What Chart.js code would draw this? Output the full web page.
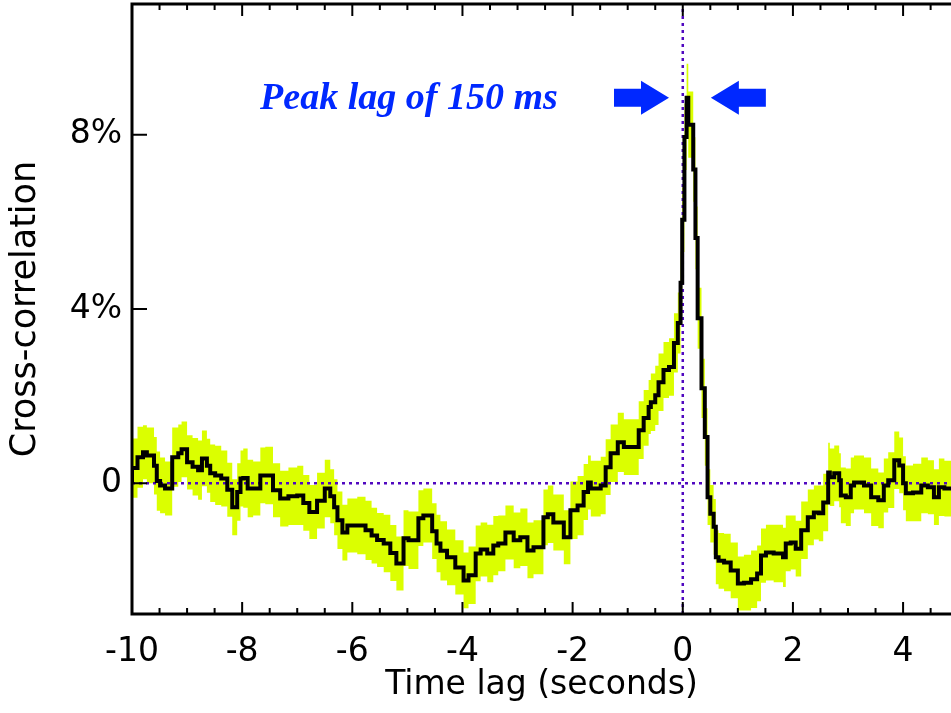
<!DOCTYPE html>
<html>
<head>
<meta charset="utf-8">
<script src="https://cdn.jsdelivr.net/npm/chart.js@4"></script>
<style>
  html, body { margin: 0; padding: 0; background: #fff; overflow: hidden; }
  canvas { display: block; }
</style>
</head>
<body>
<canvas id="chart" width="951" height="713"></canvas>
<script>
// time lag (s) where each step of the cross-correlation starts
const lags = [
  -10.0, -9.9, -9.8, -9.73, -9.6, -9.55, -9.49, -9.4, -9.27, -9.16,
  -9.1, -9.0, -8.9, -8.8, -8.73, -8.64, -8.58, -8.49, -8.38, -8.27,
  -8.18, -8.09, -8.03, -7.98, -7.9, -7.8, -7.67, -7.58, -7.44, -7.31,
  -7.16, -7.0, -6.89, -6.78, -6.64, -6.5, -6.4, -6.33, -6.27, -6.18,
  -6.09, -5.91, -5.76, -5.65, -5.55, -5.43, -5.31, -5.2, -5.07, -4.98,
  -4.8, -4.71, -4.55, -4.47, -4.4, -4.28, -4.13, -3.98, -3.89, -3.76,
  -3.67, -3.55, -3.44, -3.35, -3.22, -3.07, -2.95, -2.82, -2.71, -2.53,
  -2.45, -2.35, -2.16, -2.04, -1.91, -1.8, -1.72, -1.67, -1.49, -1.4,
  -1.31, -1.18, -1.07, -0.8, -0.71, -0.62, -0.58, -0.5, -0.44, -0.35,
  -0.25, -0.16, -0.09, -0.04, -0.01, 0.03, 0.07, 0.1, 0.19, 0.23,
  0.27, 0.34, 0.4, 0.45, 0.5, 0.56, 0.6, 0.65, 0.75, 0.87,
  1.0, 1.11, 1.24, 1.35, 1.42, 1.51, 1.65, 1.82, 1.87, 1.96,
  2.05, 2.15, 2.27, 2.38, 2.47, 2.55, 2.64, 2.67, 2.75, 2.84,
  2.87, 2.96, 3.05, 3.11, 3.29, 3.42, 3.55, 3.65, 3.73, 3.84,
  3.93, 4.0, 4.05, 4.18, 4.33, 4.45, 4.56, 4.65, 4.75, 4.87
];
// cross-correlation (%)
const corr = [
  0.0, 0.35, 0.6, 0.71, 0.64, 0.4, 0.05, -0.05, -0.12, 0.6,
  0.69, 0.78, 0.48, 0.38, 0.3, 0.57, 0.4, 0.23, 0.18, 0.11,
  -0.15, -0.55, -0.2, 0.11, 0.12, -0.12, -0.12, 0.18, 0.18, -0.16,
  -0.35, -0.3, -0.28, -0.45, -0.66, -0.4, -0.12, -0.3, -0.55, -0.85,
  -1.13, -0.97, -0.97, -1.08, -1.2, -1.3, -1.38, -1.6, -1.84, -1.26,
  -1.31, -0.8, -0.74, -1.1, -1.38, -1.55, -1.7, -1.93, -2.23, -2.11,
  -1.61, -1.52, -1.61, -1.43, -1.38, -1.13, -1.31, -1.24, -1.54, -1.47,
  -0.78, -0.71, -0.9, -1.24, -0.62, -0.51, -0.2, 0.02, -0.12, -0.05,
  0.37, 0.69, 0.94, 0.83, 1.22, 1.5, 1.75, 1.86, 2.02, 2.32,
  2.6, 2.67, 3.22, 3.68, 4.6, 6.05, 7.95, 8.85, 8.23, 7.2,
  5.63, 3.79, 2.18, 1.06, -0.32, -0.7, -1.0, -1.7, -1.78, -1.82,
  -2.0, -2.3, -2.28, -2.2, -2.07, -1.66, -1.59, -1.61, -1.7, -1.38,
  -1.36, -1.5, -1.08, -0.78, -0.67, -0.69, -0.44, 0.25, 0.14, 0.23,
  0.07, -0.28, -0.32, -0.05, 0.02, -0.05, -0.32, -0.39, -0.05, 0.07,
  0.53, 0.41, 0.0, -0.23, -0.21, -0.05, -0.09, -0.32, -0.09, -0.12
];
// half-width of the error band (%)
const err = [
  0.64, 0.68, 0.7, 0.62, 0.64, 0.66, 0.68, 0.64, 0.62, 0.68,
  0.66, 0.64, 0.62, 0.66, 0.68, 0.64, 0.62, 0.66, 0.68, 0.64,
  0.62, 0.64, 0.66, 0.64, 0.68, 0.66, 0.62, 0.64, 0.66, 0.62,
  0.64, 0.66, 0.68, 0.64, 0.62, 0.64, 0.66, 0.62, 0.64, 0.66,
  0.64, 0.62, 0.66, 0.68, 0.64, 0.62, 0.66, 0.64, 0.62, 0.64,
  0.66, 0.64, 0.62, 0.64, 0.66, 0.68, 0.64, 0.62, 0.64, 0.66,
  0.64, 0.62, 0.66, 0.68, 0.64, 0.62, 0.64, 0.66, 0.64, 0.62,
  0.64, 0.66, 0.64, 0.62, 0.66, 0.68, 0.64, 0.62, 0.64, 0.66,
  0.64, 0.66, 0.68, 0.64, 0.66, 0.64, 0.62, 0.66, 0.68, 0.66,
  0.64, 0.66, 0.68, 0.7, 0.72, 0.74, 0.76, 0.78, 0.76, 0.74,
  0.72, 0.7, 0.68, 0.66, 0.64, 0.66, 0.64, 0.62, 0.64, 0.66,
  0.64, 0.62, 0.64, 0.66, 0.64, 0.62, 0.64, 0.66, 0.68, 0.64,
  0.62, 0.64, 0.66, 0.64, 0.62, 0.64, 0.66, 0.68, 0.66, 0.64,
  0.62, 0.64, 0.66, 0.64, 0.62, 0.64, 0.66, 0.64, 0.62, 0.64,
  0.66, 0.64, 0.62, 0.64, 0.66, 0.64, 0.62, 0.64, 0.66, 0.64
];

const xMin = -10, xMax = 4.87;
const yMin = -3, yMax = 11;
const xTickValues = [-10, -8, -6, -4, -2, 0, 2, 4];
const xMinorStep = 0.5;
const yTickValues = [0, 4, 8];
const yTickLabels = ['0', '4%', '8%'];

const peakLag = 0.15, peakValue = 8.85;
const peakText = 'Peak lag of 150 ms';
const arrowTips = [-0.25, 0.51];

const BAND = '#DBFF00';
const DOTS = '#5008C0';
const BLUE = '#0028FF';
const axisFont = { family: 'DejaVu Sans', size: 33 };
const yTitleFont = { family: 'DejaVu Sans', size: 35 };

const toPts = vals => lags.map((x, i) => ({ x: x, y: vals[i] }));
const upper = corr.map((v, i) => v + err[i]);
const lower = corr.map((v, i) => v - err[i]);

const framePlugin = {
  id: 'frame',
  afterDatasetsDraw(chart) {
    const { ctx, chartArea: a, scales: { x, y } } = chart;
    ctx.save();
    ctx.strokeStyle = '#000';
    ctx.lineWidth = 3;
    ctx.beginPath();
    ctx.moveTo(a.right + 2, a.top);
    ctx.lineTo(a.left, a.top);
    ctx.lineTo(a.left, a.bottom);
    ctx.lineTo(a.right + 2, a.bottom);
    ctx.stroke();

    ctx.lineWidth = 2;
    ctx.beginPath();
    const n = Math.round((xMax - xMin) / xMinorStep);
    for (let i = 0; i <= n; i++) {
      const v = xMin + i * xMinorStep;
      if (v > xMax) break;
      const len = xTickValues.includes(v) ? 12 : 6;
      const px = x.getPixelForValue(v);
      ctx.moveTo(px, a.bottom);
      ctx.lineTo(px, a.bottom - len);
      ctx.moveTo(px, a.top);
      ctx.lineTo(px, a.top + len);
    }
    yTickValues.forEach(v => {
      const py = y.getPixelForValue(v);
      ctx.moveTo(a.left, py);
      ctx.lineTo(a.left + 15, py);
    });
    ctx.stroke();
    ctx.restore();
  },
  afterDraw(chart) {
    const { ctx, scales: { x, y } } = chart;
    ctx.save();
    ctx.fillStyle = BLUE;
    ctx.font = 'italic bold 38px "Liberation Serif"';
    ctx.textAlign = 'right';
    ctx.textBaseline = 'alphabetic';
    ctx.fillText(peakText, x.getPixelForValue(-2.27), y.getPixelForValue(8.6));

    const py = y.getPixelForValue(peakValue);
    arrowTips.forEach(t => {
      const tip = x.getPixelForValue(t);
      const dir = t < peakLag ? 1 : -1;
      const headBase = tip - dir * 28;
      const tail = tip - dir * 55;
      ctx.beginPath();
      ctx.moveTo(tip, py);
      ctx.lineTo(headBase, py - 17);
      ctx.lineTo(headBase, py - 9);
      ctx.lineTo(tail, py - 9);
      ctx.lineTo(tail, py + 9);
      ctx.lineTo(headBase, py + 9);
      ctx.lineTo(headBase, py + 17);
      ctx.closePath();
      ctx.fill();
    });
    ctx.restore();
  }
};

new Chart(document.getElementById('chart'), {
  type: 'line',
  data: {
    datasets: [
      {
        label: 'upper',
        data: toPts(upper),
        borderWidth: 0,
        pointRadius: 0,
        stepped: 'after',
        backgroundColor: BAND,
        fill: '+1',
        order: 3
      },
      {
        label: 'lower',
        data: toPts(lower),
        borderWidth: 0,
        pointRadius: 0,
        stepped: 'after',
        fill: false,
        order: 3
      },
      {
        label: 'zero',
        data: [{ x: xMin, y: 0 }, { x: xMax, y: 0 }],
        borderColor: DOTS,
        borderWidth: 2.5,
        borderDash: [3, 4],
        pointRadius: 0,
        fill: false,
        order: 2
      },
      {
        label: 'zero lag',
        data: [{ x: 0, y: yMin }, { x: 0, y: yMax }],
        borderColor: DOTS,
        borderWidth: 2.5,
        borderDash: [3, 4],
        pointRadius: 0,
        fill: false,
        order: 2
      },
      {
        label: 'cross-correlation',
        data: toPts(corr),
        borderColor: '#000',
        borderWidth: 4,
        pointRadius: 0,
        stepped: 'after',
        fill: false,
        order: 1
      }
    ]
  },
  options: {
    responsive: false,
    animation: false,
    layout: { padding: { top: 4, right: 0, bottom: 0, left: 0 } },
    plugins: {
      legend: { display: false },
      tooltip: { enabled: false }
    },
    scales: {
      x: {
        type: 'linear',
        min: xMin,
        max: xMax,
        afterBuildTicks: s => { s.ticks = xTickValues.map(v => ({ value: v })); },
        afterFit: s => { s.height = 99; s.paddingRight = 0; },
        grid: { display: false },
        border: { display: false },
        ticks: { font: axisFont, color: '#000', padding: 11, maxRotation: 0, autoSkip: false },
        title: {
          display: true,
          text: 'Time lag (seconds)',
          font: axisFont,
          color: '#000',
          padding: { top: 0, bottom: 8 }
        }
      },
      y: {
        type: 'linear',
        min: yMin,
        max: yMax,
        afterBuildTicks: s => { s.ticks = yTickValues.map(v => ({ value: v })); },
        afterFit: s => { s.width = 132; s.paddingTop = 0; s.paddingBottom = 0; },
        grid: { display: false },
        border: { display: false },
        ticks: {
          font: axisFont,
          color: '#000',
          padding: 2,
          callback: v => yTickLabels[yTickValues.indexOf(v)]
        },
        title: {
          display: true,
          text: 'Cross-correlation',
          font: yTitleFont,
          color: '#000',
          padding: { top: 5, bottom: 0 }
        }
      }
    }
  },
  plugins: [framePlugin]
});
</script>
</body>
</html>
